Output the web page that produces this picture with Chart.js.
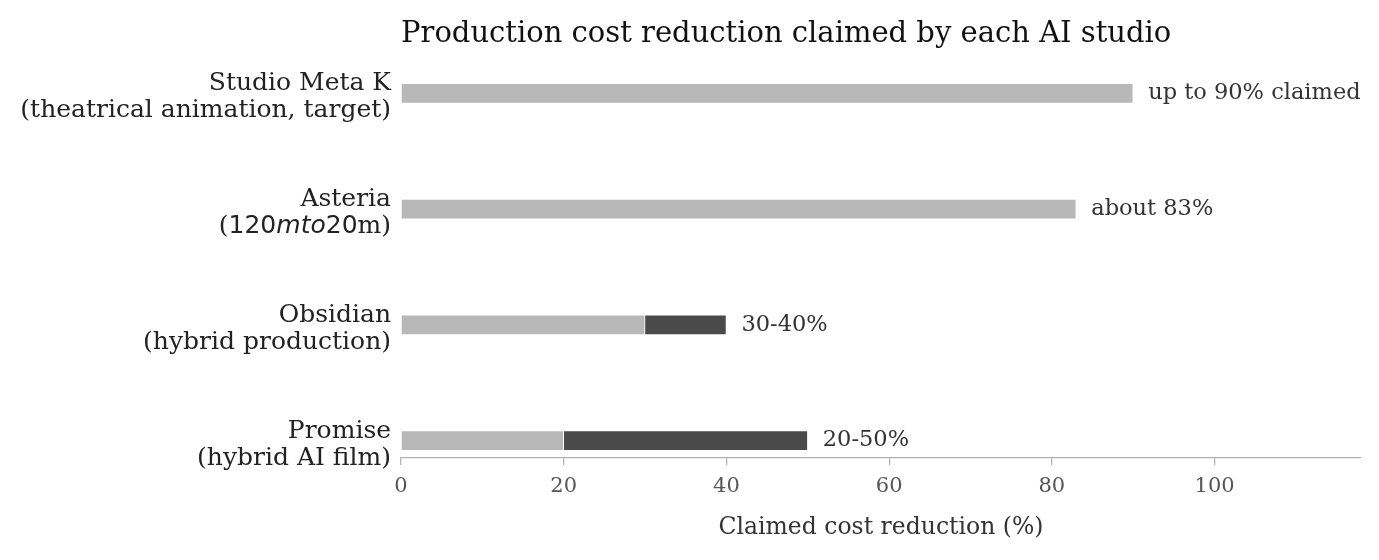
<!DOCTYPE html>
<html>
<head>
  <meta charset="utf-8">
  <script src="https://cdn.jsdelivr.net/npm/chart.js@4"></script>
  <style>
    html, body { margin: 0; padding: 0; background: #fff; }
    .chart-container { width: 1379px; height: 560px; position: relative; }
  </style>
</head>
<body>
  <div class="chart-container">
    <canvas id="costChart"></canvas>
  </div>

  <script>
    // Data (top to bottom)
    const studios = [
      ["Studio Meta K", "(theatrical animation, target)"],
      ["Asteria", "(120mto20m)"],
      ["Obsidian", "(hybrid production)"],
      ["Promise", "(hybrid AI film)"],
    ];
    const lowClaim = [90, 83, 30, 20];        // light part of each bar
    const rangeExtra = [null, null, 10, 30];  // dark part: upper end of the claimed range
    const valueLabels = ["up to 90% claimed", "about 83%", "30-40%", "20-50%"];
    const xTicks = [0, 20, 40, 60, 80, 100];

    const serif = "'DejaVu Serif', serif";
    const sans = "'DejaVu Sans', sans-serif";

    // rows go from top (highest y) to bottom (y = 0)
    const rowPos = studios.map((s, i) => studios.length - 1 - i);

    const lightColor = "#b8b8b8";
    const darkColor = "#4a4a4a";

    // Asteria's second line mixes fonts the same way the matplotlib mathtext did
    const asteriaParts = [
      { t: "(", f: "25px " + serif },
      { t: "120", f: "25px " + sans },
      { t: "mto", f: "oblique 25px " + sans },
      { t: "20", f: "25px " + sans },
      { t: "m)", f: "25px " + serif },
    ];

    const textPlugin = {
      id: "textPlugin",
      afterDraw(chart) {
        const ctx = chart.ctx;
        const area = chart.chartArea;
        const xs = chart.scales.x;
        const ys = chart.scales.y;
        ctx.save();

        // title, left aligned with the axes
        ctx.fillStyle = "#111";
        ctx.font = "29px " + serif;
        ctx.textAlign = "left";
        ctx.textBaseline = "middle";
        ctx.fillText("Production cost reduction claimed by each AI studio", area.left, 34);

        // category labels
        ctx.fillStyle = "#222";
        ctx.textAlign = "right";
        ctx.textBaseline = "alphabetic";
        const labelRight = area.left - 10;
        studios.forEach((lines, i) => {
          const yc = ys.getPixelForValue(rowPos[i]);
          ctx.font = "25px " + serif;
          ctx.fillText(lines[0], labelRight, yc - 3);
          if (i === 1) {
            // draw mixed parts right-to-left
            let x = labelRight;
            for (let k = asteriaParts.length - 1; k >= 0; k--) {
              ctx.font = asteriaParts[k].f;
              ctx.fillText(asteriaParts[k].t, x, yc + 24);
              x -= ctx.measureText(asteriaParts[k].t).width;
            }
          } else {
            ctx.fillText(lines[1], labelRight, yc + 24);
          }
        });

        // value labels at the end of each bar
        ctx.fillStyle = "#333";
        ctx.font = "22.5px " + serif;
        ctx.textAlign = "left";
        ctx.textBaseline = "middle";
        studios.forEach((s, i) => {
          const end = lowClaim[i] + (rangeExtra[i] || 0);
          ctx.fillText(valueLabels[i], xs.getPixelForValue(end) + 15, ys.getPixelForValue(rowPos[i]));
        });

        // x axis title
        ctx.font = "23.5px " + serif;
        ctx.textAlign = "center";
        ctx.fillText("Claimed cost reduction (%)", (area.left + area.right) / 2, 528);

        ctx.restore();
      },
    };

    new Chart(document.getElementById("costChart"), {
      type: "bar",
      data: {
        datasets: [
          {
            label: "Claimed (low end)",
            data: lowClaim.map((v, i) => ({ x: v, y: rowPos[i] })),
            backgroundColor: lightColor,
            borderColor: "#fff",
            borderWidth: 1,
            barThickness: 20,
          },
          {
            label: "Claimed range",
            data: rangeExtra.map((v, i) => ({ x: v, y: rowPos[i] })),
            backgroundColor: darkColor,
            borderColor: "#fff",
            borderWidth: 1,
            barThickness: 20,
          },
        ],
      },
      options: {
        indexAxis: "y",
        responsive: true,
        maintainAspectRatio: false,
        animation: false,
        layout: { padding: { left: 401, right: 18, top: 76, bottom: 0 } },
        scales: {
          x: {
            type: "linear",
            stacked: true,
            min: 0,
            max: 118,
            afterBuildTicks: (scale) => { scale.ticks = xTicks.map(v => ({ value: v })); },
            afterFit: (scale) => { scale.height = 102; },
            border: { color: "#b0b0b0", width: 1.25 },
            grid: { drawOnChartArea: false, drawTicks: true, tickLength: 7, color: "#b0b0b0", lineWidth: 1.25 },
            ticks: { color: "#555", font: { family: serif, size: 21 }, padding: 9, maxRotation: 0 },
          },
          y: {
            type: "linear",
            stacked: true,
            offset: false,
            min: -0.15,
            max: 3.15,
            display: false,
          },
        },
        plugins: {
          legend: { display: false },
          tooltip: { enabled: false },
        },
      },
      plugins: [textPlugin],
    });
  </script>
</body>
</html>
